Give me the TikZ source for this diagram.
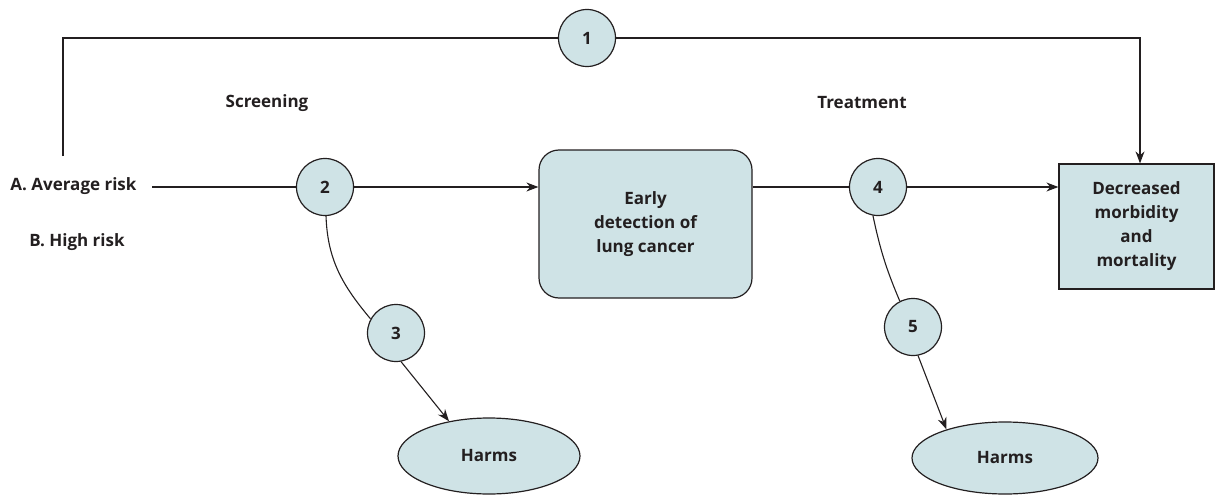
\documentclass[tikz,border=0pt]{standalone}
\usepackage{fontspec}
\setmainfont{Open Sans}
\usetikzlibrary{arrows.meta,shapes.geometric}
\definecolor{boxfill}{HTML}{CFE3E6}
\definecolor{ink}{HTML}{231F20}
\begin{document}
\begin{tikzpicture}[x=1pt,y=-1pt,
  every node/.style={font=\fontsize{17}{24}\selectfont\bfseries, text=ink},
  num/.style={circle, draw=ink, line width=1.2pt, fill=boxfill, minimum size=57pt, inner sep=0pt},
  rbox/.style={draw=ink, line width=1.2pt, fill=boxfill, rounded corners=20pt, align=center, inner sep=0pt},
  sbox/.style={draw=ink, line width=1.2pt, fill=boxfill, align=center, inner sep=0pt},
  harm/.style={ellipse, draw=ink, line width=1.2pt, fill=boxfill, inner sep=0pt},
  conn/.style={draw=ink, line width=1.1pt},
  arr/.style={conn, -{Stealth[length=12pt,width=9pt]}}]
\useasboundingbox (0,0) rectangle (1216,495);
% nodes
\node[num] (c1) at (587,38) {1};
\node[num] (c2) at (325,187) {2};
\node[num] (c3) at (396,333) {3};
\node[num] (c4) at (878,187) {4};
\node[num] (c5) at (913,327) {5};
\node[rbox, minimum width=213pt, minimum height=148pt] (e) at (645.5,224) {Early\\detection of\\lung cancer};
\node[sbox, minimum width=155pt, minimum height=125pt] (d) at (1136.5,226.5) {Decreased\\morbidity\\and\\mortality};
\node[harm, minimum width=182pt, minimum height=76pt] (h1) at (489,456) {Harms};
\node[harm, minimum width=186pt, minimum height=72pt] (h2) at (1005,458) {Harms};
\node[anchor=east] (la) at (140,186) {A. Average risk};
\node (lb) at (77,242) {B. High risk};
\node (scr) at (267,103) {Screening};
\node (trt) at (862,103) {Treatment};
\coordinate (as) at (152,187);
\coordinate (tl) at (63,156);
% connectors
\draw[conn] (tl) |- (c1.west);
\draw[arr] (c1.east) -| ([xshift=3.5pt]d.north);
\draw[conn] (as) -- (c2.west);
\draw[arr] (c2.east) -- (c2 -| e.west);
\draw[conn] (e.east |- c4) -- (c4.west);
\draw[arr] (c4.east) -- (c4 -| d.west);
\draw[conn] (c2.-88) to[out=-88,in=130] (c3.151);
\draw[arr] (c3.-80) -- (h1.139);
\draw[conn] (c4.-100) to[out=-78,in=113] (c5.117);
\draw[arr] (c5.-80) -- (h2.154);
\end{tikzpicture}
\end{document}
